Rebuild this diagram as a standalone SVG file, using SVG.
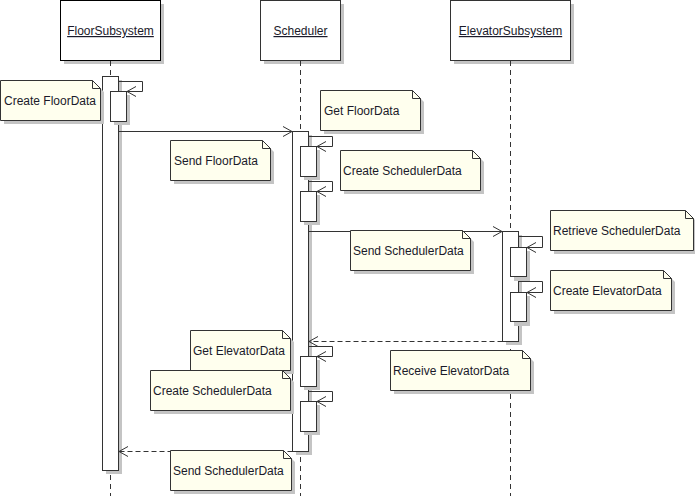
<svg xmlns="http://www.w3.org/2000/svg" width="695" height="496" viewBox="0 0 695 496">
<style>
text{font-family:"Liberation Sans",Arial,sans-serif;font-size:12px;fill:#1a1a2a}
.head{fill:#fff;stroke:#333;stroke-width:1}
.sh{fill:#c4c4c4}
.life{stroke:#333;stroke-width:1;stroke-dasharray:5,4;fill:none}
.act{fill:#fff;stroke:#333;stroke-width:1}
.note{fill:#ffffee;stroke:#333;stroke-width:1}
.msg{stroke:#333;stroke-width:1;fill:none;marker-end:url(#a)}
.ret{stroke:#333;stroke-width:1;fill:none;stroke-dasharray:5,3;marker-end:url(#a)}
.self{stroke:#333;stroke-width:1;fill:none}
</style>
<defs>
<marker id="a" markerUnits="userSpaceOnUse" markerWidth="12" markerHeight="12" viewBox="-10 -6 12 12" refX="0" refY="0" orient="auto" overflow="visible">
<path d="M-9,-5 L0,0 L-9,5" fill="none" stroke="#333" stroke-width="1"/>
</marker>
</defs>
<rect width="695" height="496" fill="#fff"/>

<g id="floor">
<rect class="sh" x="64" y="4" width="100" height="60"/>
<rect class="head" x="60.5" y="0.5" width="100" height="60" stroke="#000" style="stroke:#000"/>
<text x="110.5" y="35" text-anchor="middle" text-decoration="underline">FloorSubsystem</text>
<line class="life" x1="110.5" y1="61" x2="110.5" y2="496"/>
<rect class="sh" x="106" y="80" width="16" height="394"/>
<rect class="act" x="102.5" y="76.5" width="16" height="394"/>
<rect class="sh" x="114" y="95" width="16" height="30"/>
<rect class="act" x="110.5" y="91.5" width="16" height="30"/>
</g>

<g id="scheduler">
<rect class="sh" x="264" y="4" width="80" height="60"/>
<rect class="head" x="260.5" y="0.5" width="80" height="60"/>
<text x="300.5" y="35" text-anchor="middle" text-decoration="underline">Scheduler</text>
<line class="life" x1="300.5" y1="61" x2="300.5" y2="496"/>
<rect class="sh" x="296" y="135" width="16" height="320"/>
<rect class="act" x="292.5" y="131.5" width="16" height="320"/>
<rect class="sh" x="304" y="150" width="16" height="30"/>
<rect class="act" x="300.5" y="146.5" width="16" height="30"/>
<rect class="sh" x="304" y="195" width="16" height="30"/>
<rect class="act" x="300.5" y="191.5" width="16" height="30"/>
<rect class="sh" x="304" y="360" width="16" height="30"/>
<rect class="act" x="300.5" y="356.5" width="16" height="30"/>
<rect class="sh" x="304" y="405" width="16" height="30"/>
<rect class="act" x="300.5" y="401.5" width="16" height="30"/>
</g>

<g id="elevator">
<rect class="sh" x="454" y="4" width="120" height="60"/>
<rect class="head" x="450.5" y="0.5" width="120" height="60"/>
<text x="510.5" y="35" text-anchor="middle" text-decoration="underline">ElevatorSubsystem</text>
<line class="life" x1="510.5" y1="61" x2="510.5" y2="496"/>
<rect class="sh" x="506" y="235" width="16" height="110"/>
<rect class="act" x="502.5" y="231.5" width="16" height="110"/>
<rect class="sh" x="514" y="251" width="16" height="30"/>
<rect class="act" x="510.5" y="247.5" width="16" height="29"/>
<rect class="sh" x="514" y="296" width="16" height="30"/>
<rect class="act" x="510.5" y="292.5" width="16" height="29"/>
</g>

<g id="connectors">
<path class="msg" d="M118.5,81.5 H142.5 V91.5 H127"/>
<path class="msg" d="M118.5,131.5 H292"/>
<path class="msg" d="M308.5,136.5 H332.5 V146.5 H317"/>
<path class="msg" d="M308.5,181.5 H332.5 V191.5 H317"/>
<path class="msg" d="M308.5,231.5 H502"/>
<path class="msg" d="M518.5,236.5 H542.5 V247.5 H527"/>
<path class="msg" d="M518.5,281.5 H542.5 V292.5 H527"/>
<path class="ret" d="M502.5,341.5 H309"/>
<path class="msg" d="M308.5,346.5 H332.5 V356.5 H317"/>
<path class="msg" d="M308.5,391.5 H332.5 V401.5 H317"/>
<path class="ret" d="M292.5,451.5 H119"/>
</g>

<g id="note-create-floordata">
<path class="sh" d="M4,84 H96 L104,92 V124 H4 Z"/>
<path class="note" d="M0.5,80.5 H92.5 L100.5,88.5 V120.5 H0.5 Z"/>
<path class="self" d="M92.5,80.5 V88.5 H100.5"/>
<text x="4" y="105">Create FloorData</text>
</g>

<g id="note-get-floordata">
<path class="sh" d="M324,94 H416 L424,102 V134 H324 Z"/>
<path class="note" d="M320.5,90.5 H412.5 L420.5,98.5 V130.5 H320.5 Z"/>
<path class="self" d="M412.5,90.5 V98.5 H420.5"/>
<text x="324" y="115">Get FloorData</text>
</g>

<g id="note-send-floordata">
<path class="sh" d="M174,144 H266 L274,152 V184 H174 Z"/>
<path class="note" d="M170.5,140.5 H262.5 L270.5,148.5 V180.5 H170.5 Z"/>
<path class="self" d="M262.5,140.5 V148.5 H270.5"/>
<text x="174" y="165">Send FloorData</text>
</g>

<g id="note-create-schedulerdata-1">
<path class="sh" d="M344,154 H476 L484,162 V194 H344 Z"/>
<path class="note" d="M340.5,150.5 H472.5 L480.5,158.5 V190.5 H340.5 Z"/>
<path class="self" d="M472.5,150.5 V158.5 H480.5"/>
<text x="343" y="175">Create SchedulerData</text>
</g>

<g id="note-send-schedulerdata-1">
<path class="sh" d="M354,234 H466 L474,242 V274 H354 Z"/>
<path class="note" d="M350.5,230.5 H462.5 L470.5,238.5 V270.5 H350.5 Z"/>
<path class="self" d="M462.5,230.5 V238.5 H470.5"/>
<text x="353" y="255">Send SchedulerData</text>
</g>

<g id="note-retrieve-schedulerdata">
<path class="sh" d="M554,214 H689 L697,222 V254 H554 Z"/>
<path class="note" d="M550.5,210.5 H685.5 L693.5,218.5 V250.5 H550.5 Z"/>
<path class="self" d="M685.5,210.5 V218.5 H693.5"/>
<text x="553" y="235">Retrieve SchedulerData</text>
</g>

<g id="note-create-elevatordata">
<path class="sh" d="M554,274 H667 L675,282 V314 H554 Z"/>
<path class="note" d="M550.5,270.5 H663.5 L671.5,278.5 V310.5 H550.5 Z"/>
<path class="self" d="M663.5,270.5 V278.5 H671.5"/>
<text x="553" y="295">Create ElevatorData</text>
</g>

<g id="note-receive-elevatordata">
<path class="sh" d="M394,354 H526 L534,362 V394 H394 Z"/>
<path class="note" d="M390.5,350.5 H522.5 L530.5,358.5 V390.5 H390.5 Z"/>
<path class="self" d="M522.5,350.5 V358.5 H530.5"/>
<text x="393" y="375">Receive ElevatorData</text>
</g>

<g id="note-get-elevatordata">
<path class="sh" d="M194,334 H286 L294,342 V374 H194 Z"/>
<path class="note" d="M190.5,330.5 H282.5 L290.5,338.5 V370.5 H190.5 Z"/>
<path class="self" d="M282.5,330.5 V338.5 H290.5"/>
<text x="193" y="355">Get ElevatorData</text>
</g>

<g id="note-create-schedulerdata-2">
<path class="sh" d="M154,374 H286 L294,382 V414 H154 Z"/>
<path class="note" d="M150.5,370.5 H282.5 L290.5,378.5 V410.5 H150.5 Z"/>
<path class="self" d="M282.5,370.5 V378.5 H290.5"/>
<text x="153" y="395">Create SchedulerData</text>
</g>

<g id="note-send-schedulerdata-2">
<path class="sh" d="M174,454 H287 L295,462 V494 H174 Z"/>
<path class="note" d="M170.5,450.5 H283.5 L291.5,458.5 V490.5 H170.5 Z"/>
<path class="self" d="M283.5,450.5 V458.5 H291.5"/>
<text x="173" y="475">Send SchedulerData</text>
</g>
</svg>
